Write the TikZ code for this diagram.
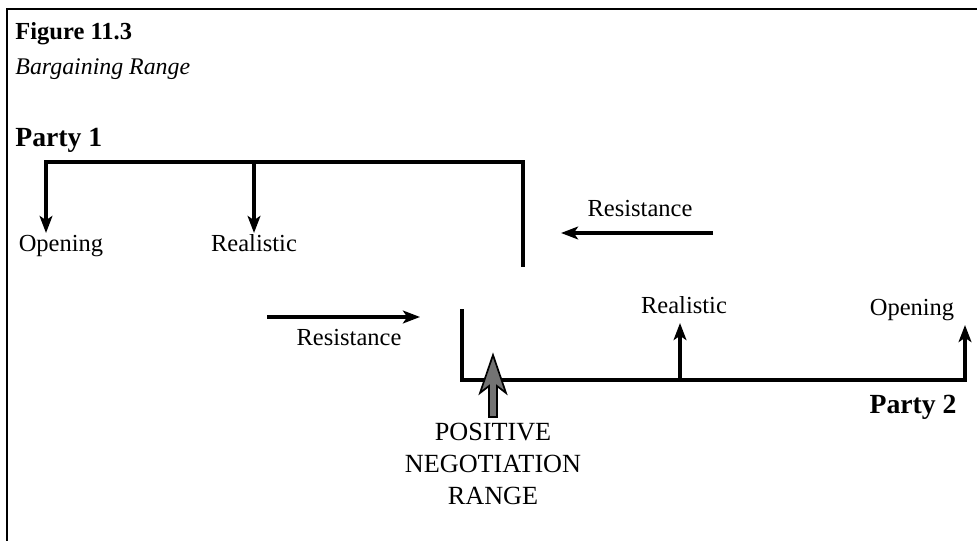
\documentclass[tikz,border=0pt]{standalone}
\usepackage{fontspec}
\setmainfont{Liberation Serif}
\usetikzlibrary{arrows.meta}

\begin{document}
\begin{tikzpicture}[x=0.0165cm,y=-0.0165cm,
  >={Stealth[length=8pt,width=6pt,inset=2pt]},
  bar/.style={line width=1.5pt},
  lbl/.style={font=\fontsize{11.5}{13}\selectfont,inner sep=0pt},
  caps/.style={font=\fontsize{12.3}{14}\selectfont,inner sep=0pt},
  party/.style={font=\fontsize{13}{15}\selectfont\bfseries,inner sep=0pt}]
\useasboundingbox (0,0) rectangle (977,541);
% frame
\draw[line width=1.2pt] (977,9) -- (7,9) -- (7,541);
% title
\node[anchor=base west,font=\fontsize{11.5}{13}\selectfont\bfseries,inner sep=0pt] (fig) at (15,40) {Figure 11.3};
\node[anchor=base west,font=\fontsize{11.2}{13}\selectfont\itshape,inner sep=0pt] (sub) at (15,75) {Bargaining Range};

% party 1
\node[party,anchor=base west] (party1) at (15,147) {Party 1};
\coordinate (p1end) at (523,267);
\coordinate (p1r) at (523,162);
\coordinate (p1l) at (46,162);
\coordinate (p1real) at (254,162);
\coordinate (open1tip) at (46,233);
\coordinate (real1tip) at (254,233);
\node[lbl,anchor=base] (open1) at (61,252) {Opening};
\node[lbl,anchor=base] (real1) at (254,252) {Realistic};
\draw[bar,->] (p1end) -- (p1r) -- (p1l) -- (open1tip);
\draw[bar,->] (p1real) -- (real1tip);

% resistance, party 1 side
\node[lbl,anchor=base] (res1) at (640,217) {Resistance};
\coordinate (res1a) at (713,233);
\coordinate (res1b) at (561,233);
\draw[bar,->] (res1a) -- (res1b);

% resistance, party 2 side
\node[lbl,anchor=base] (res2) at (349,346) {Resistance};
\coordinate (res2a) at (267,317);
\coordinate (res2b) at (420,317);
\draw[bar,->] (res2a) -- (res2b);

% party 2
\coordinate (p2start) at (462,309);
\coordinate (p2l) at (462,380);
\coordinate (p2r) at (965,380);
\coordinate (p2real) at (680,380);
\coordinate (open2tip) at (965,325);
\coordinate (real2tip) at (680,323);
\node[lbl,anchor=base] (real2) at (684,313) {Realistic};
\node[lbl,anchor=base] (open2) at (912,316) {Opening};
\draw[bar,->] (p2start) -- (p2l) -- (p2r) -- (open2tip);
\draw[bar,->] (p2real) -- (real2tip);
\node[party,anchor=base east] (party2) at (957,413) {Party 2};

% overlap
\draw[fill=black!55,line width=0.8pt] (489,417) -- (489,386) -- (480,393) -- (493,355)
  -- (506,393) -- (497,386) -- (497,417) -- cycle;
\node[caps,anchor=base] (pos) at (493,440) {POSITIVE};
\node[caps,anchor=base] (neg) at (493,472) {NEGOTIATION};
\node[caps,anchor=base] (rng) at (493,504) {RANGE};
\end{tikzpicture}
\end{document}
